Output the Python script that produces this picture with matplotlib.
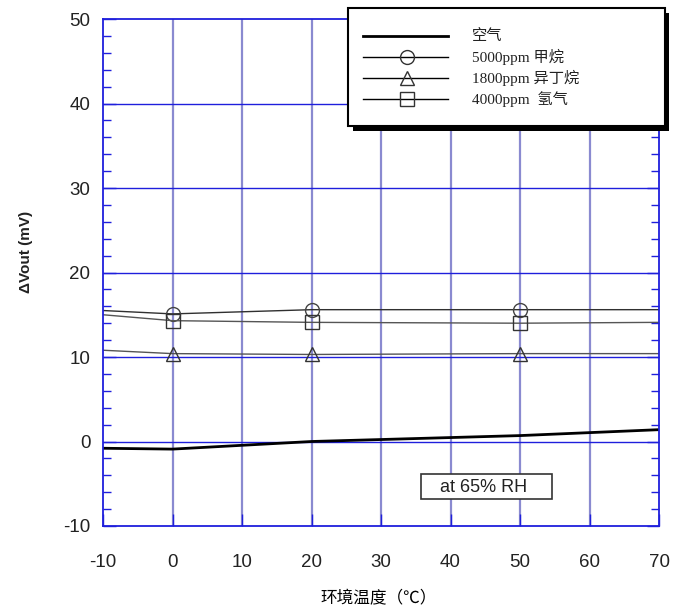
import matplotlib.pyplot as plt
from matplotlib.lines import Line2D
from matplotlib.patches import Rectangle

plt.rcParams['axes.unicode_minus'] = False

temps = [-10, 0, 20, 50, 70]
air = [-0.8, -0.9, 0.0, 0.7, 1.4]
methane = [15.5, 15.1, 15.6, 15.6, 15.6]
isobutane = [10.8, 10.4, 10.3, 10.4, 10.4]
hydrogen = [15.0, 14.3, 14.1, 14.0, 14.1]
labels = ['空气', '5000ppm 甲烷', '1800ppm 异丁烷', '4000ppm  氢气']

serif_cjk = ['Liberation Serif', 'Noto Sans CJK SC']
blue = '#1f1fdc'
W, H = 681, 609

fig = plt.figure(figsize=(W / 100, H / 100), dpi=100)
ax = fig.add_axes([103 / W, 1 - 526 / H, 556 / W, 507 / H])

# grid: vertical lines light purple, horizontal strong blue
for xv in range(0, 70, 10):
    ax.axvline(xv, color='#8a8ad0', lw=1.6, zorder=0)
for yv in range(0, 50, 10):
    ax.axhline(yv, color=blue, lw=1.0, zorder=0)

series = [
    (air, dict(color='black', lw=2.0)),
    (methane, dict(color='#303030', lw=1.0, marker='o', mec='#444444')),
    (isobutane, dict(color='#555555', lw=1.0, marker='^', mec='#333333')),
    (hydrogen, dict(color='#555555', lw=1.0, marker='s', mec='#333333')),
]
for vals, st in series:
    if 'marker' in st:
        ax.plot(temps, vals, ms=10, mfc='none', markevery=[1, 2, 3], **st)
    else:
        ax.plot(temps, vals, **st)

ax.set_xlim(-10, 70)
ax.set_ylim(-10, 50)
ax.set_xticks(range(-10, 71, 10))
ax.set_yticks(range(-10, 51, 10))
ax.set_yticks(range(-10, 51, 2), minor=True)
ax.tick_params(axis='both', which='both', direction='in', color=blue,
               labelcolor='#222222', labelsize=13.5)
ax.tick_params(axis='y', which='both', right=True, pad=9)
ax.tick_params(axis='y', which='major', length=9, width=1)
ax.tick_params(axis='y', which='minor', length=6, width=1)
ax.tick_params(axis='x', which='major', length=9, width=1, pad=20)
for lab in ax.get_xticklabels() + ax.get_yticklabels():
    lab.set_family('Liberation Sans')
for s in ax.spines.values():
    s.set_color(blue)
    s.set_linewidth(1.3)

ax.set_ylabel('ΔVout (mV)', fontsize=11, family='Liberation Sans', weight='bold',
              color='#222222')
ax.yaxis.set_label_coords((33 - 103) / 556, (526 - 252) / 507)
ax.set_xlabel('环境温度（℃）', fontsize=12, family=['Noto Sans CJK SC', 'DejaVu Sans'])
ax.xaxis.set_label_coords((379 - 103) / 556, (526 - 599) / 507)
ax.xaxis.label.set_va('center')

# "at 65% RH" note box
ax.add_patch(Rectangle((35.8, -6.81), 18.85, 2.96, fc='white', ec='#333333',
                       lw=1.2, zorder=4))
ax.text(44.75, -5.5, 'at 65% RH', fontsize=13, family='Liberation Sans',
        ha='center', va='center', color='#222222', zorder=5)

# legend box with heavy black shadow, drawn in pixel-based figure coords
def fx(px):
    return px / W

def fy(py):
    return 1 - py / H

fig.patches.append(Rectangle((fx(353), fy(131)), fx(316), 118 / H,
                             transform=fig.transFigure, fc='black', ec='none', zorder=5))
fig.patches.append(Rectangle((fx(348), fy(126)), fx(317), 118 / H,
                             transform=fig.transFigure, fc='white', ec='black',
                             lw=1.5, zorder=6))
rows = [36, 57, 78, 99]
for (vals, st), lab, ry in zip(series, labels, rows):
    st = dict(st)
    fig.lines.append(Line2D([fx(363), fx(448)], [fy(ry), fy(ry)],
                            transform=fig.transFigure, zorder=7,
                            lw=st['lw'], color='black'))
    if 'marker' in st:
        fig.lines.append(Line2D([fx(407)], [fy(ry)], transform=fig.transFigure,
                                zorder=8, marker=st['marker'], ms=10, mfc='none',
                                mec='#333333', ls='none'))
    fig.text(fx(472), fy(ry), lab, va='center', ha='left', fontsize=11,
             family=serif_cjk, zorder=8, color='#222222')

fig.savefig('out.png', dpi=100)
